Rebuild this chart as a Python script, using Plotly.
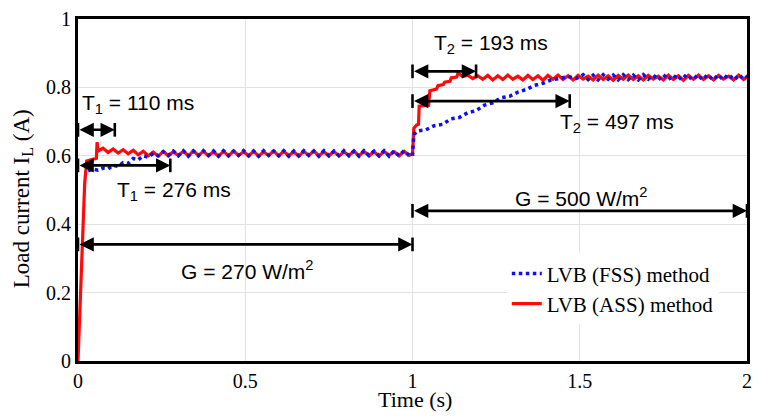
import plotly.graph_objects as go

# ---------------- data ----------------
# LVB (ASS) method - red solid
time_ass = [
    0.000, 0.005, 0.012, 0.020, 0.026, 0.035, 0.045, 0.055, 0.057,
    0.060, 0.075, 0.090, 0.105, 0.120, 0.135, 0.150, 0.165, 0.180, 0.195,
    0.210, 0.225, 0.240, 0.255, 0.270, 0.285, 0.300, 0.315, 0.330, 0.345,
    0.360, 0.375, 0.390, 0.405, 0.420, 0.435, 0.450, 0.465, 0.480, 0.495,
    0.510, 0.525, 0.540, 0.555, 0.570, 0.585, 0.600, 0.615, 0.630, 0.645,
    0.660, 0.675, 0.690, 0.705, 0.720, 0.735, 0.750, 0.765, 0.780, 0.795,
    0.810, 0.825, 0.840, 0.855, 0.870, 0.885, 0.900, 0.915, 0.930, 0.945,
    0.960, 0.975, 0.990,
    1.000, 1.004, 1.012, 1.018, 1.020, 1.048, 1.052, 1.072, 1.076, 1.092,
    1.096, 1.112, 1.116, 1.132, 1.136, 1.150, 1.165, 1.180, 1.195,
    1.210, 1.225, 1.240, 1.255, 1.270, 1.285, 1.300, 1.315, 1.330, 1.345,
    1.360, 1.375, 1.390, 1.405, 1.420, 1.435, 1.450, 1.465, 1.480, 1.495,
    1.510, 1.525, 1.540, 1.555, 1.570, 1.585, 1.600, 1.615, 1.630, 1.645,
    1.660, 1.675, 1.690, 1.705, 1.720, 1.735, 1.750, 1.765, 1.780, 1.795,
    1.810, 1.825, 1.840, 1.855, 1.870, 1.885, 1.900, 1.915, 1.930, 1.945,
    1.960, 1.975, 1.990, 2.000,
]
current_ass = [
    0.000, 0.140, 0.330, 0.520, 0.585, 0.588, 0.590, 0.593, 0.640,
    0.614, 0.622, 0.610, 0.620, 0.608, 0.618, 0.606, 0.616, 0.603, 0.613,
    0.600, 0.611, 0.599, 0.613, 0.600, 0.612, 0.601, 0.613, 0.600, 0.614,
    0.601, 0.613, 0.600, 0.612, 0.599, 0.613, 0.600, 0.614, 0.601, 0.612,
    0.600, 0.613, 0.599, 0.612, 0.601, 0.614, 0.600, 0.613, 0.600, 0.612,
    0.599, 0.613, 0.601, 0.614, 0.600, 0.612, 0.600, 0.613, 0.599, 0.612,
    0.601, 0.614, 0.600, 0.613, 0.600, 0.612, 0.599, 0.613, 0.601, 0.612,
    0.600, 0.613, 0.601,
    0.606, 0.680, 0.690, 0.692, 0.745, 0.748, 0.790, 0.795, 0.805, 0.808,
    0.815, 0.818, 0.828, 0.830, 0.842, 0.832, 0.836, 0.826, 0.834,
    0.824, 0.835, 0.822, 0.834, 0.823, 0.836, 0.824, 0.833, 0.822, 0.835,
    0.823, 0.834, 0.821, 0.835, 0.824, 0.836, 0.823, 0.834, 0.822, 0.835,
    0.824, 0.833, 0.822, 0.836, 0.823, 0.834, 0.821, 0.835, 0.824, 0.836,
    0.823, 0.834, 0.822, 0.835, 0.824, 0.833, 0.822, 0.836, 0.823, 0.834,
    0.821, 0.835, 0.824, 0.836, 0.823, 0.834, 0.822, 0.835, 0.824, 0.833,
    0.822, 0.836, 0.823, 0.830,
]

# LVB (FSS) method - blue dotted (its initial rise is hidden under the red one)
time_fss = [
    0.030, 0.045, 0.060, 0.075, 0.090, 0.105, 0.120, 0.135, 0.150, 0.165,
    0.180, 0.195, 0.210, 0.225, 0.240, 0.255, 0.270, 0.285, 0.300, 0.315,
    0.330, 0.345, 0.360, 0.375, 0.390, 0.405, 0.420, 0.435, 0.450, 0.465,
    0.480, 0.495, 0.510, 0.525, 0.540, 0.555, 0.570, 0.585, 0.600, 0.615,
    0.630, 0.645, 0.660, 0.675, 0.690, 0.705, 0.720, 0.735, 0.750, 0.765,
    0.780, 0.795, 0.810, 0.825, 0.840, 0.855, 0.870, 0.885, 0.900, 0.915,
    0.930, 0.945, 0.960, 0.975, 0.990,
    1.000, 1.004, 1.015, 1.040, 1.065, 1.090, 1.115, 1.140, 1.165, 1.190,
    1.215, 1.240, 1.265, 1.290, 1.315, 1.340, 1.365, 1.390, 1.415, 1.440,
    1.465, 1.490,
    1.510, 1.525, 1.540, 1.555, 1.570, 1.585, 1.600, 1.615, 1.630, 1.645,
    1.660, 1.675, 1.690, 1.705, 1.720, 1.735, 1.750, 1.765, 1.780, 1.795,
    1.810, 1.825, 1.840, 1.855, 1.870, 1.885, 1.900, 1.915, 1.930, 1.945,
    1.960, 1.975, 1.990, 2.000,
]
current_fss = [
    0.556, 0.561, 0.558, 0.564, 0.562, 0.572, 0.569, 0.580, 0.578, 0.592,
    0.588, 0.600, 0.596, 0.607, 0.600, 0.612, 0.601, 0.614, 0.600, 0.615,
    0.599, 0.614, 0.600, 0.615, 0.601, 0.614, 0.599, 0.615, 0.600, 0.614,
    0.601, 0.615, 0.600, 0.614, 0.599, 0.615, 0.601, 0.614, 0.600, 0.615,
    0.599, 0.614, 0.600, 0.615, 0.601, 0.614, 0.599, 0.615, 0.600, 0.614,
    0.601, 0.615, 0.600, 0.614, 0.599, 0.615, 0.601, 0.614, 0.600, 0.615,
    0.599, 0.614, 0.600, 0.615, 0.601,
    0.600, 0.662, 0.673, 0.676, 0.688, 0.692, 0.708, 0.712, 0.726, 0.732,
    0.748, 0.755, 0.770, 0.774, 0.786, 0.794, 0.806, 0.812, 0.822, 0.826,
    0.832, 0.826,
    0.837, 0.823, 0.836, 0.822, 0.837, 0.824, 0.836, 0.822, 0.837, 0.823,
    0.836, 0.822, 0.837, 0.824, 0.836, 0.822, 0.837, 0.823, 0.836, 0.822,
    0.837, 0.824, 0.836, 0.822, 0.837, 0.823, 0.836, 0.822, 0.837, 0.824,
    0.836, 0.822, 0.837, 0.830,
]

series_names = ["LVB (FSS) method", "LVB (ASS) method"]

# interval markers (double arrows): start, end, level
interval_start = [0.0, 0.0, 0.0, 1.0, 1.0, 1.0]
interval_end = [0.11, 0.276, 1.0, 1.19, 1.47, 2.0]
interval_level = [0.676, 0.572, 0.341, 0.847, 0.760, 0.439]

# interval labels
label_texts = [
    "T<sub>1</sub> = 110 ms",
    "T<sub>1</sub> = 276 ms",
    "G = 270 W/m<sup>2</sup>",
    "T<sub>2</sub> = 193 ms",
    "T<sub>2</sub> = 497 ms",
    "G = 500 W/m<sup>2</sup>",
]
label_x = [0.006, 0.110, 0.505, 1.059, 1.436, 1.504]
label_y = [0.752, 0.498, 0.266, 0.926, 0.695, 0.480]
label_anchor = ["left", "left", "center", "left", "left", "center"]

x_ticks = [0, 0.5, 1, 1.5, 2]
x_ticklabels = ["0", "0.5", "1", "1.5", "2"]
y_ticks = [0, 0.2, 0.4, 0.6, 0.8, 1]
y_ticklabels = ["0", "0.2", "0.4", "0.6", "0.8", "1"]

# ---------------- figure ----------------
SERIF = "Liberation Serif, Times New Roman, serif"
SANS = "Liberation Sans, Arial, sans-serif"

fig = go.Figure()
fig.add_trace(go.Scatter(
    x=time_ass, y=current_ass, mode="lines", name=series_names[1],
    line=dict(color="#ff0a0a", width=3.2),
))
fig.add_trace(go.Scatter(
    x=time_fss, y=current_fss, mode="lines", name=series_names[0],
    line=dict(color="#1010ee", width=3.5, dash="dot"),
))

annotations = []
shapes = []
bar_half = 0.02
for x0, x1, yv in zip(interval_start, interval_end, interval_level):
    annotations.append(dict(
        x=x1, y=yv, ax=x0, ay=yv, xref="x", yref="y", axref="x", ayref="y",
        text="", showarrow=True, arrowside="end+start",
        arrowhead=2, startarrowhead=2, arrowsize=1.1, startarrowsize=1.1,
        arrowwidth=2.6, arrowcolor="black",
    ))
    for xv in (x0, x1):
        shapes.append(dict(
            type="line", xref="x", yref="y", x0=xv, x1=xv,
            y0=yv - bar_half, y1=yv + bar_half,
            line=dict(color="black", width=2.6),
        ))

for txt, lx, ly, anc in zip(label_texts, label_x, label_y, label_anchor):
    annotations.append(dict(
        x=lx, y=ly, xref="x", yref="y", text=txt, showarrow=False,
        xanchor=anc, yanchor="middle",
        font=dict(family=SANS, size=21, color="black"),
    ))

# axis titles
annotations.append(dict(
    x=(418 - 78) / 674, y=(361 - 400) / 346, xref="paper", yref="paper",
    text="Time (s)", showarrow=False, xanchor="center", yanchor="middle",
    font=dict(family=SERIF, size=22, color="black"),
))
annotations.append(dict(
    x=(22 - 78) / 674, y=(361 - 197) / 346, xref="paper", yref="paper",
    text="Load current I<sub>L</sub> (A)", showarrow=False, textangle=-90,
    xanchor="center", yanchor="middle",
    font=dict(family=SERIF, size=23, color="black"),
))

axis_common = dict(
    showline=True, linecolor="black", linewidth=3, mirror=True,
    showgrid=True, gridcolor="#e2e2e2", gridwidth=1,
    zeroline=False, ticks="",
    tickfont=dict(family=SERIF, size=20, color="black"),
)

fig.update_layout(
    width=760, height=417,
    margin=dict(l=78, r=8, t=15, b=56),
    paper_bgcolor="white", plot_bgcolor="white",
    xaxis=dict(range=[0, 2], tickvals=x_ticks, ticktext=x_ticklabels, **axis_common),
    yaxis=dict(range=[0, 1], tickvals=y_ticks, ticktext=y_ticklabels, **axis_common),
    showlegend=True,
    legend=dict(
        x=(510 - 78) / 674, y=(361 - 252) / 346, xanchor="left", yanchor="top",
        bgcolor="white", borderwidth=0, traceorder="reversed",
        font=dict(family=SERIF, size=21, color="black"),
        itemwidth=30, tracegroupgap=0,
    ),
    annotations=annotations,
    shapes=shapes,
)

fig.write_html("out.html")
